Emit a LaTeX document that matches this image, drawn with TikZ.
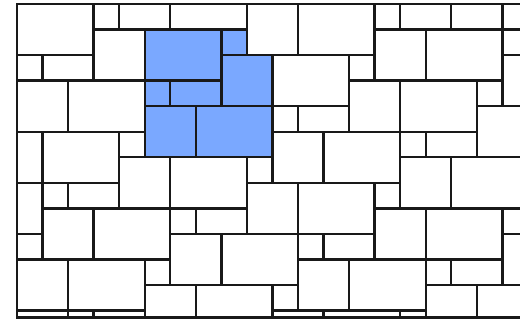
\documentclass[tikz,border=0pt]{standalone}
\usepackage{tikz}
\definecolor{tileblue}{RGB}{122,168,255}
\colorlet{groutline}{black!90}

\begin{document}
\begin{tikzpicture}[x=.5cm,y=-.5cm,
    tile/.style={draw=groutline,line width=1.3pt},
    shadedtile/.style={tile,fill=tileblue}]
  \useasboundingbox (-.665,-.157) rectangle (19.69,12.47);
  \begin{scope}
    \clip (0,0) rectangle (19.9,12.27);
    % highlighted block
    \foreach \xa/\ya/\xb/\yb in {5/1/8/3,8/1/9/2,8/2/10/4,5/3/6/4,6/3/8/4,5/4/7/6,7/4/10/6}
      \draw[shadedtile] (\xa,\ya) rectangle (\xb,\yb);
    % plain tiles, row by row
    \foreach \xa/\ya/\xb/\yb in {0/0/3/2,3/0/4/1,4/0/6/1,6/0/9/1,9/0/11/2,11/0/14/2,14/0/15/1,15/0/17/1,17/0/19/1,19/0/21/1,
        3/1/5/3,14/1/16/3,16/1/19/3,19/1/20/2,
        0/2/1/3,1/2/3/3,10/2/13/4,13/2/14/3,19/2/21/4,
        0/3/2/5,2/3/5/5,13/3/15/5,15/3/18/5,18/3/19/4,
        10/4/11/5,11/4/13/5,18/4/20/6,
        0/5/1/7,1/5/4/7,4/5/5/6,10/5/12/7,12/5/15/7,15/5/16/6,16/5/18/6,
        4/6/6/8,6/6/9/8,9/6/10/7,15/6/17/8,17/6/20/8,
        0/7/1/9,1/7/2/8,2/7/4/8,9/7/11/9,11/7/14/9,14/7/15/8,
        1/8/3/10,3/8/6/10,6/8/7/9,7/8/9/9,14/8/16/10,16/8/19/10,19/8/20/9,
        0/9/1/10,6/9/8/11,8/9/11/11,11/9/12/10,12/9/14/10,19/9/21/11,
        0/10/2/12,2/10/5/12,5/10/6/11,11/10/13/12,13/10/16/12,16/10/17/11,17/10/19/11,
        5/11/7/13,7/11/10/13,10/11/11/12,16/11/18/13,18/11/21/13,
        0/12/2/13,2/12/3/13,3/12/5/13,10/12/12/13,12/12/15/13,15/12/16/13}
      \draw[tile] (\xa,\ya) rectangle (\xb,\yb);
  \end{scope}
  \draw[tile] (19.9,0) -- (0,0) -- (0,12.27) -- (19.9,12.27);
\end{tikzpicture}
\end{document}
